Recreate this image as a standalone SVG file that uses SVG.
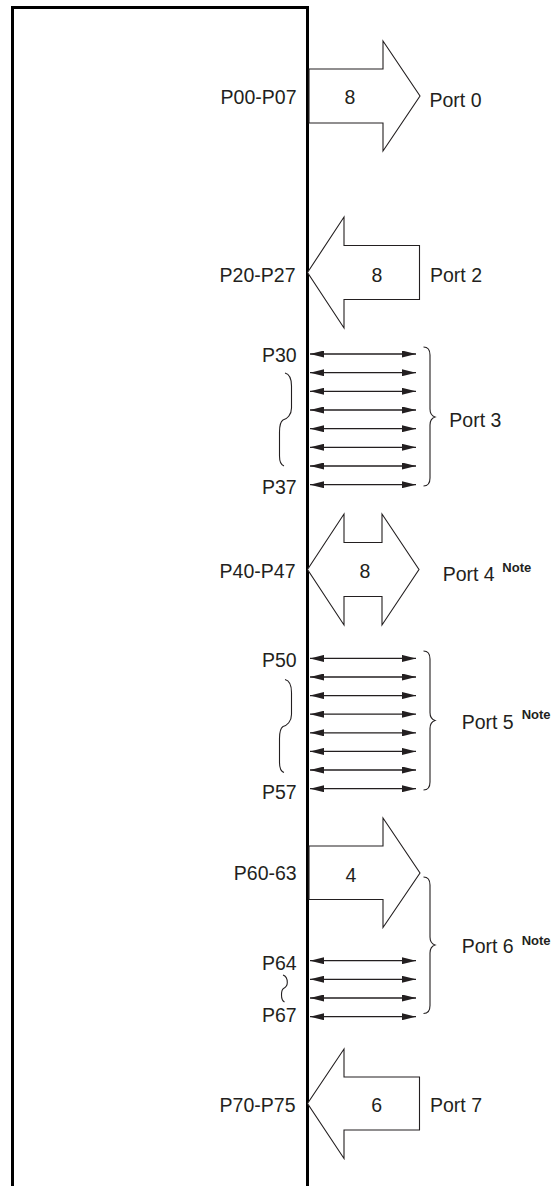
<svg xmlns="http://www.w3.org/2000/svg" width="552" height="1186" viewBox="0 0 552 1186">
<style>
text{font-family:"Liberation Sans",Arial,sans-serif;font-size:19.5px;fill:#231f20}
.r{text-anchor:end}
.m{text-anchor:middle}
.note{font-size:13px;font-weight:bold}
.big{fill:#fff;stroke:#231f20;stroke-width:1.1;stroke-linejoin:miter}
.bi{stroke:#231f20;stroke-width:1.3;marker-start:url(#ah);marker-end:url(#ah)}
.brace{fill:none;stroke:#231f20;stroke-width:1.1}
.box{fill:none;stroke:#000;stroke-width:3}
</style>
<defs>
<marker id="ah" viewBox="0 0 14 7" refX="14" refY="3.5" markerWidth="14" markerHeight="7" orient="auto-start-reverse" markerUnits="userSpaceOnUse"><path d="M0,0 L14,3.5 L0,7 z" fill="#231f20"/></marker>
</defs>
<g id="chip"><path class="box" d="M12.5,1186 L12.5,7.5 L307.5,7.5 L307.5,1186"/></g>
<g id="connectors">
<polygon class="big" points="309,69 383,69 383,41 420,96 383,151 383,123 309,123"/>
<polygon class="big" points="307.5,272.5 344,217 344,245.5 419.5,245.5 419.5,299.5 344,299.5 344,328"/>
<g id="port3-lines">
<line class="bi" x1="310" y1="354" x2="416" y2="354"/>
<line class="bi" x1="310" y1="372.7" x2="416" y2="372.7"/>
<line class="bi" x1="310" y1="391.3" x2="416" y2="391.3"/>
<line class="bi" x1="310" y1="410" x2="416" y2="410"/>
<line class="bi" x1="310" y1="428.7" x2="416" y2="428.7"/>
<line class="bi" x1="310" y1="447.3" x2="416" y2="447.3"/>
<line class="bi" x1="310" y1="466" x2="416" y2="466"/>
<line class="bi" x1="310" y1="484.7" x2="416" y2="484.7"/>
</g>
<polygon class="big" points="307.5,569.5 344,514 344,542.5 382,542.5 382,514 419,569.5 382,625 382,596.5 344,596.5 344,625"/>
<g id="port5-lines">
<line class="bi" x1="310" y1="658.4" x2="416" y2="658.4"/>
<line class="bi" x1="310" y1="677" x2="416" y2="677"/>
<line class="bi" x1="310" y1="695.6" x2="416" y2="695.6"/>
<line class="bi" x1="310" y1="714.2" x2="416" y2="714.2"/>
<line class="bi" x1="310" y1="732.8" x2="416" y2="732.8"/>
<line class="bi" x1="310" y1="751.4" x2="416" y2="751.4"/>
<line class="bi" x1="310" y1="770" x2="416" y2="770"/>
<line class="bi" x1="310" y1="788.7" x2="416" y2="788.7"/>
</g>
<polygon class="big" points="309,846 383,846 383,818 420,873 383,927.5 383,899.5 309,899.5"/>
<g id="port6-lines">
<line class="bi" x1="310" y1="960.7" x2="416" y2="960.7"/>
<line class="bi" x1="310" y1="979.3" x2="416" y2="979.3"/>
<line class="bi" x1="310" y1="998" x2="416" y2="998"/>
<line class="bi" x1="310" y1="1016.7" x2="416" y2="1016.7"/>
</g>
<polygon class="big" points="307.5,1103.5 344,1049 344,1077 419.5,1077 419.5,1130 344,1130 344,1158.5"/>
</g>
<g id="braces">
<path class="brace" d="M423.5,347 C428,347 430,350 430,355 L430,409 C430,413 432,416 435,417 C432,418 430,421 430,425 L430,478 C430,483 428,486 423.5,486"/>
<path class="brace" d="M423.5,651 C428,651 430,654 430,659 L430,712.5 C430,716.5 432,719.5 435,720.5 C432,721.5 430,724.5 430,728.5 L430,782 C430,787 428,790 423.5,790"/>
<path class="brace" d="M423.5,877 C428,877 430,880 430,885 L430,937 C430,941 432,944 435,945 C432,946 430,949 430,953 L430,1005.5 C430,1010.5 428,1013.5 423.5,1013.5"/>
<path class="brace" d="M285,373 C289,374 291.5,378 291.5,386 L291.5,408 C291.5,415 287,419 283,420 C280,422 279.5,426 279.5,432 L279.5,456 C279.5,462 281,465 284,466"/>
<path class="brace" d="M285,679.5 C289,680.5 291.5,684.5 291.5,692.5 L291.5,714.5 C291.5,721.5 287,725.5 283,726.5 C280,728.5 279.5,732.5 279.5,738.5 L279.5,762.5 C279.5,768.5 281,771.5 284,772.5"/>
<path class="brace" d="M283,975 C286,976 287.3,979 287.3,982.5 C287.3,985.5 285.5,987.5 283.5,988.5 C282,989.5 281.5,992 281.5,995 C281.5,999 282.5,1001 284.5,1002"/>
</g>
<g id="port0">
<text class="r" x="296.5" y="104">P00-P07</text>
<text class="m" x="350" y="104">8</text>
<text x="429.5" y="107">Port 0</text>
</g>
<g id="port2">
<text class="r" x="295.5" y="281.7">P20-P27</text>
<text class="m" x="377" y="281.7">8</text>
<text x="430" y="281.7">Port 2</text>
</g>
<g id="port3">
<text class="r" x="296.7" y="361.7">P30</text>
<text class="r" x="296.7" y="494">P37</text>
<text x="449.3" y="426.7">Port 3</text>
</g>
<g id="port4">
<text class="r" x="295.5" y="578.3">P40-P47</text>
<text class="m" x="365" y="578.3">8</text>
<text x="442.7" y="580.7">Port 4</text>
<text class="note" x="502.3" y="571.7">Note</text>
</g>
<g id="port5">
<text class="r" x="296.7" y="666.7">P50</text>
<text class="r" x="296.7" y="799.3">P57</text>
<text x="461.7" y="729.3">Port 5</text>
<text class="note" x="521.7" y="719">Note</text>
</g>
<g id="port6">
<text class="r" x="296.7" y="880">P60-63</text>
<text class="m" x="351" y="881.7">4</text>
<text class="r" x="296.7" y="970">P64</text>
<text class="r" x="296.7" y="1021.7">P67</text>
<text x="461.7" y="953.3">Port 6</text>
<text class="note" x="521.7" y="945">Note</text>
</g>
<g id="port7">
<text class="r" x="295.5" y="1111.7">P70-P75</text>
<text class="m" x="376.7" y="1111.7">6</text>
<text x="430" y="1111.7">Port 7</text>
</g>
</svg>
